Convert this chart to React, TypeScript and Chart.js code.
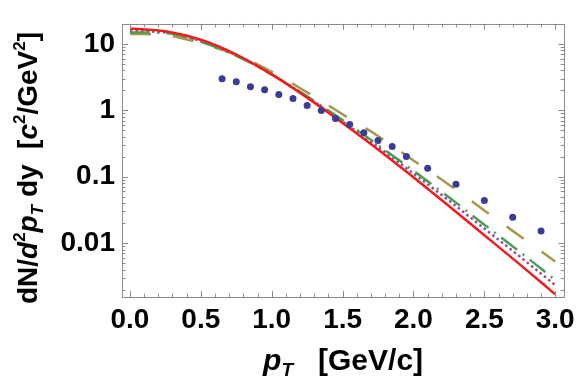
import React, { useEffect, useRef } from "react";
import { Chart, registerables } from "chart.js";

Chart.register(...registerables);

// ---- data ----
const curveX = [0, 0.25, 0.5, 0.75, 1.0, 1.25, 1.5, 1.75, 2.0, 2.25, 2.5, 2.75, 3.0];
const redCurve = [17.0, 15.5, 11.5, 6.9, 3.47, 1.55, 0.645, 0.257, 0.098, 0.0363, 0.0132, 0.0048, 0.0017];
const greenCurve = [14.8, 14.5, 10.7, 6.6, 3.47, 1.62, 0.71, 0.3, 0.123, 0.049, 0.019, 0.0074, 0.0028];
const purpleCurve = [15.5, 14.8, 11.0, 6.76, 3.47, 1.58, 0.676, 0.282, 0.112, 0.0437, 0.0166, 0.0063, 0.00234];
const oliveCurve = [14.1, 13.5, 10.2, 6.8, 3.8, 1.86, 0.87, 0.41, 0.176, 0.076, 0.031, 0.0128, 0.0053];

const dataX = [0.65, 0.75, 0.85, 0.95, 1.05, 1.15, 1.25, 1.35, 1.45, 1.55, 1.65, 1.75, 1.85, 1.95, 2.1, 2.3, 2.5, 2.7, 2.9];
const dataY = [2.98, 2.69, 2.26, 2.04, 1.72, 1.5, 1.175, 0.99, 0.75, 0.61, 0.46, 0.35, 0.286, 0.202, 0.134, 0.077, 0.044, 0.0246, 0.0152];

const xTickValues = [0, 0.5, 1.0, 1.5, 2.0, 2.5, 3.0];
const xTickLabels = ["0.0", "0.5", "1.0", "1.5", "2.0", "2.5", "3.0"];
const yTickValues = [0.01, 0.1, 1, 10];
const yTickLabels = ["0.01", "0.1", "1", "10"];

const X_MIN = -0.056;
const X_MAX = 3.063;
const Y_MIN = 0.00155;
const Y_MAX = 20;

const FONT = "'Liberation Sans', Arial, Helvetica, sans-serif";
const TICK_FONT_SIZE = 28;
const Y_TITLE_FONT_SIZE = 28;
const X_TITLE_FONT_SIZE = 30;

type Run = { t: string; italic?: boolean; scale?: number; rise?: number };

const yTitleRuns: Run[] = [
  { t: "dN/" },
  { t: "d", italic: true },
  { t: "2", scale: 0.62, rise: 0.42 },
  { t: "p", italic: true },
  { t: "T", italic: true, scale: 0.62, rise: -0.2 },
  { t: " dy" },
  { t: "  [" },
  { t: "c", italic: true },
  { t: "2", scale: 0.62, rise: 0.42 },
  { t: "/GeV" },
  { t: "2", scale: 0.62, rise: 0.42 },
  { t: "]" },
];

const xTitleRuns: Run[] = [
  { t: "p", italic: true },
  { t: "T", italic: true, scale: 0.62, rise: -0.2 },
  { t: "   [GeV/c]" },
];

function runFont(r: Run, F: number) {
  return `${r.italic ? "italic " : ""}bold ${Math.round(F * (r.scale ?? 1))}px ${FONT}`;
}

function drawRuns(ctx: CanvasRenderingContext2D, runs: Run[], F: number, cx: number, baseY: number) {
  const widths = runs.map((r) => {
    ctx.font = runFont(r, F);
    return ctx.measureText(r.t).width;
  });
  const total = widths.reduce((a, b) => a + b, 0);
  let x = cx - total / 2;
  runs.forEach((r, i) => {
    ctx.font = runFont(r, F);
    ctx.fillText(r.t, x, baseY - (r.rise ?? 0) * F);
    x += widths[i];
  });
}

const framePlugin = {
  id: "frameTicks",
  afterDraw(chart: any) {
    const ctx: CanvasRenderingContext2D = chart.ctx;
    const { left, right, top, bottom } = chart.chartArea;
    const xs = chart.scales.x;
    const ys = chart.scales.y;
    ctx.save();
    ctx.strokeStyle = "#8c8c8c";
    ctx.lineWidth = 1;
    ctx.strokeRect(Math.round(left) + 0.5, Math.round(top) + 0.5, Math.round(right - left), Math.round(bottom - top));
    ctx.beginPath();
    for (let i = 0; i <= 30; i++) {
      const v = i / 10;
      const major = i % 5 === 0;
      const len = major ? 6 : 3.5;
      const px = Math.round(xs.getPixelForValue(v)) + 0.5;
      ctx.moveTo(px, bottom);
      ctx.lineTo(px, bottom - len);
      ctx.moveTo(px, top);
      ctx.lineTo(px, top + len);
    }
    for (let e = -3; e <= 1; e++) {
      for (let m = 1; m <= 9; m++) {
        const v = m * Math.pow(10, e);
        if (v < Y_MIN || v > Y_MAX) continue;
        const major = m === 1;
        const len = major ? 6 : 3.5;
        const py = Math.round(ys.getPixelForValue(v)) + 0.5;
        ctx.moveTo(left, py);
        ctx.lineTo(left + len, py);
        ctx.moveTo(right, py);
        ctx.lineTo(right - len, py);
      }
    }
    ctx.stroke();

    ctx.fillStyle = "#000";
    ctx.textAlign = "left";
    ctx.textBaseline = "alphabetic";
    drawRuns(ctx, xTitleRuns, X_TITLE_FONT_SIZE, (left + right) / 2, 370);
    ctx.translate(37, 168);
    ctx.rotate(-Math.PI / 2);
    drawRuns(ctx, yTitleRuns, Y_TITLE_FONT_SIZE, 0, 0);
    ctx.restore();
  },
};

function pts(xs: number[], ys: number[]) {
  return xs.map((x, i) => ({ x, y: ys[i] }));
}

export default function App() {
  const ref = useRef<HTMLCanvasElement | null>(null);

  useEffect(() => {
    if (!ref.current) return;
    const curveCommon = {
      showLine: true,
      pointRadius: 0,
      borderWidth: 2.5,
      cubicInterpolationMode: "monotone" as const,
      fill: false,
    };
    const chart = new Chart(ref.current, {
      type: "scatter",
      data: {
        datasets: [
          {
            label: "data",
            data: pts(dataX, dataY),
            showLine: false,
            pointRadius: 3.5,
            pointBackgroundColor: "#3a3c96",
            pointBorderWidth: 0,
            borderColor: "#3a3c96",
          },
          {
            ...curveCommon,
            label: "red",
            data: pts(curveX, redCurve),
            borderColor: "#ee1c1c",
          },
          {
            ...curveCommon,
            label: "green",
            data: pts(curveX, greenCurve),
            borderColor: "#4a9e58",
            borderDash: [20, 7, 2, 7],
          },
          {
            ...curveCommon,
            label: "purple",
            data: pts(curveX, purpleCurve),
            borderColor: "#9a4a8e",
            borderDash: [2.5, 3],
          },
          {
            ...curveCommon,
            label: "olive",
            data: pts(curveX, oliveCurve),
            borderColor: "#a6984c",
            borderDash: [21, 22],
          },
        ] as any,
      },
      options: {
        responsive: false,
        animation: false,
        devicePixelRatio: 1,
        layout: { padding: { left: 0, right: 15, top: 23, bottom: 0 } },
        plugins: {
          legend: { display: false },
          tooltip: { enabled: false },
        },
        scales: {
          x: {
            type: "linear",
            min: X_MIN,
            max: X_MAX,
            grid: { display: false, drawTicks: false },
            border: { display: false },
            afterBuildTicks: (s: any) => {
              s.ticks = xTickValues.map((v) => ({ value: v }));
            },
            afterFit: (s: any) => {
              s.height = 85;
            },
            ticks: {
              autoSkip: false,
              maxRotation: 0,
              padding: 6,
              color: "#000",
              font: { size: TICK_FONT_SIZE, weight: "bold", family: FONT },
              callback: (_v: any, i: number) => xTickLabels[i],
            },
          },
          y: {
            type: "logarithmic",
            min: Y_MIN,
            max: Y_MAX,
            grid: { display: false, drawTicks: false },
            border: { display: false },
            afterBuildTicks: (s: any) => {
              s.ticks = yTickValues.map((v) => ({ value: v }));
            },
            afterFit: (s: any) => {
              s.width = 122;
            },
            ticks: {
              autoSkip: false,
              padding: 7,
              color: "#000",
              font: { size: TICK_FONT_SIZE, weight: "bold", family: FONT },
              callback: (_v: any, i: number) => yTickLabels[i],
            },
          },
        },
      } as any,
      plugins: [framePlugin],
    });
    return () => chart.destroy();
  }, []);

  return (
    <div style={{ position: "absolute", left: 0, top: 0, width: 581, height: 382, background: "#fff" }}>
      <canvas ref={ref} width={581} height={382} style={{ display: "block" }} />
    </div>
  );
}
